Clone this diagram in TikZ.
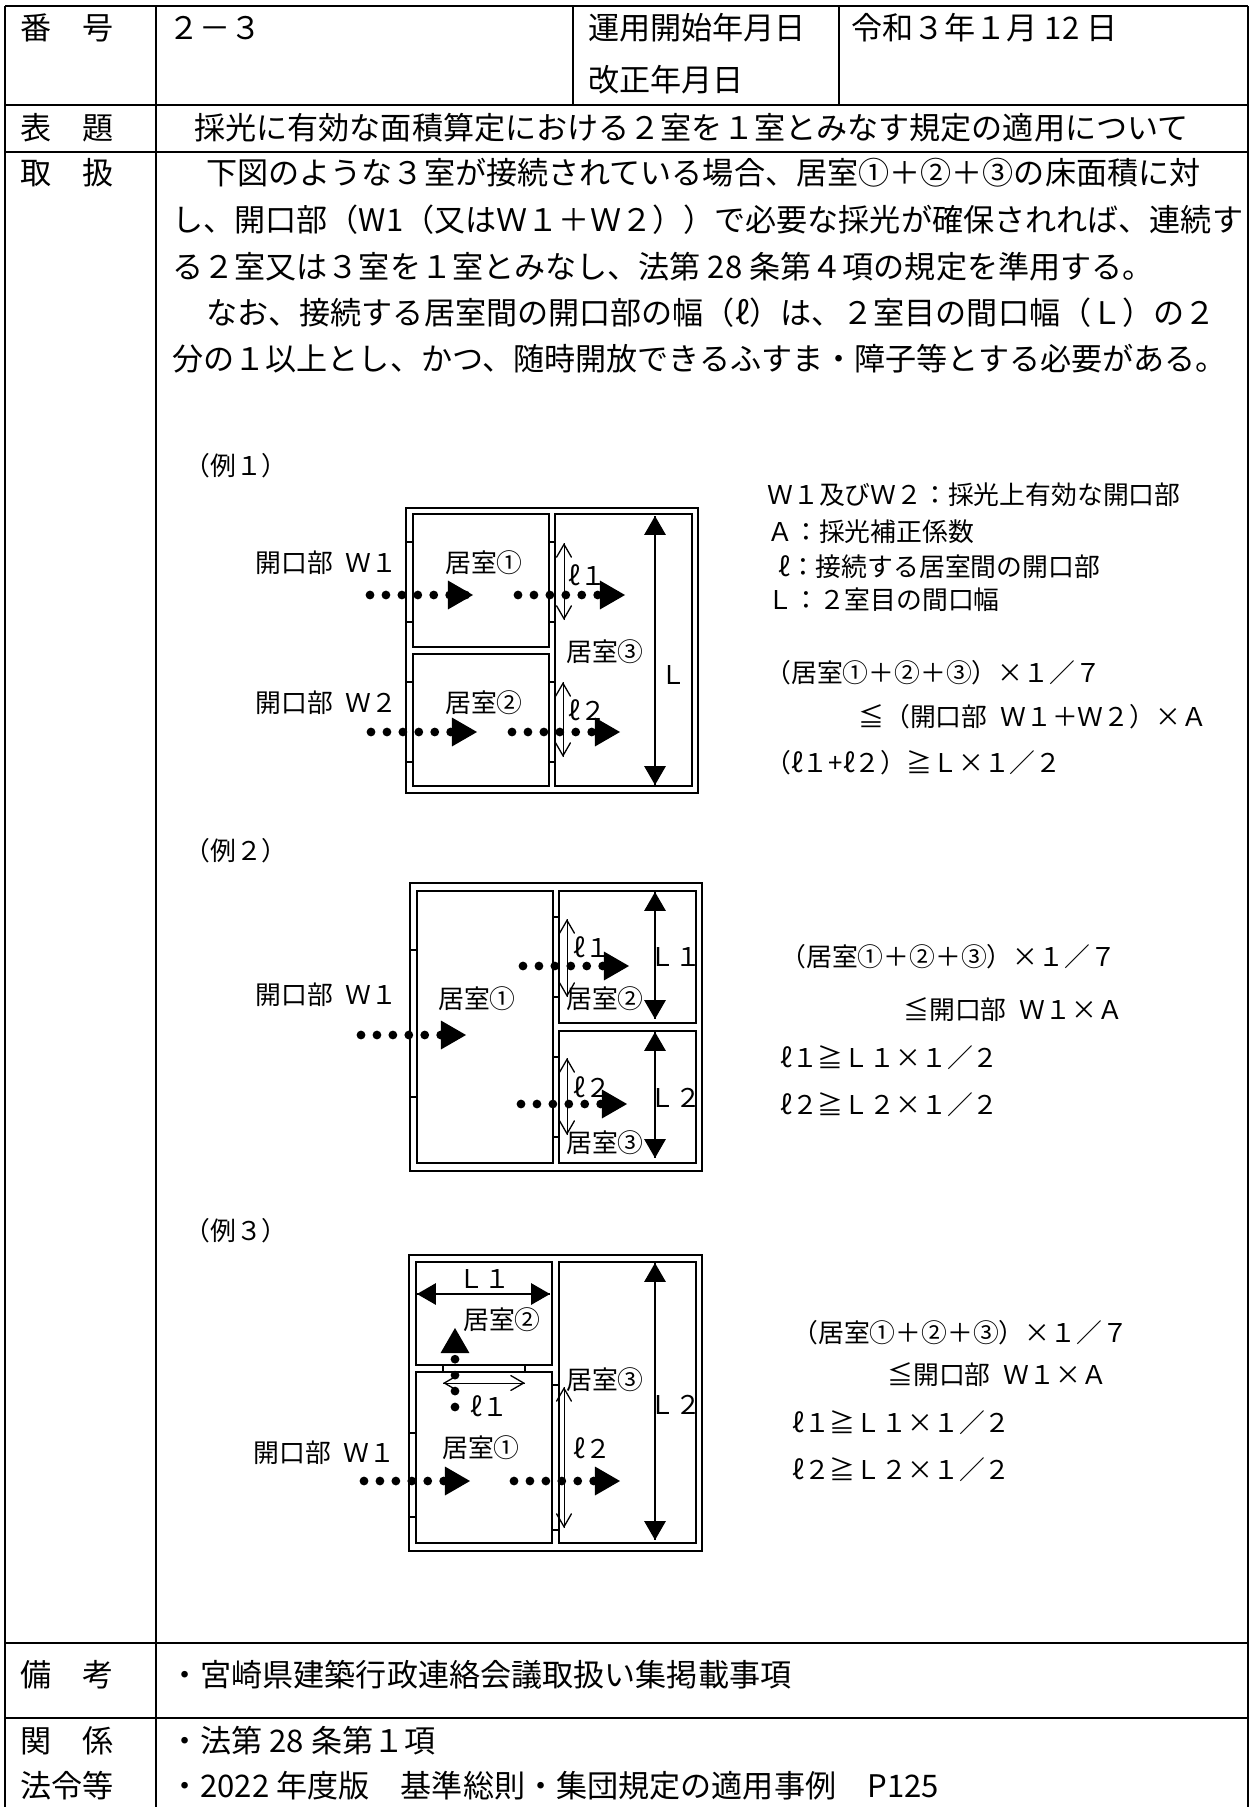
\documentclass[tikz,border=0pt]{standalone}
\usepackage{fontspec}
\setmainfont{Noto Sans CJK JP}
\usepackage{tikz}
\usetikzlibrary{arrows}
\usetikzlibrary{decorations.markings}
\newcommand{\bodysize}{\fontsize{17.7pt}{21pt}\selectfont}
\newcommand{\figsize}{\fontsize{14.7pt}{18pt}\selectfont}
\tikzset{rule/.style = {line width = 1pt}}
\tikzset{wall/.style = {line width = 1.6pt}}
\tikzset{txt/.style = {inner sep = 0, anchor = west, font = \bodysize}}
\tikzset{fig/.style = {inner sep = 0, font = \figsize}}
\tikzset{ray/.style = {line width = 5pt, line cap = round, dash pattern = on 0pt off 9.07pt,
                       decoration = {markings,
                                     mark = at position 1 with {\arrow[scale = 2.7, line width = 0.4pt]{triangle 60}}},
                       postaction = {decorate}}}
\tikzset{dimspan/.style = {line width = 0.6pt,
                           decoration = {markings,
                                         mark = at position 0 with {\arrowreversed[scale = 1.8]{triangle 60}},
                                         mark = at position 1 with {\arrow[scale = 1.8]{triangle 60}}},
                           postaction = {decorate}}}
\tikzset{gapspan/.style = {line width = 0.3pt,
                           decoration = {markings,
                                         mark = at position 0 with {\arrowreversed[scale = 2.5]{angle 60}},
                                         mark = at position 1 with {\arrow[scale = 2.5]{angle 60}}},
                           postaction = {decorate}}}

\begin{document}
\begin{tikzpicture}[x = 0.02cm, y = -0.02cm]
    \useasboundingbox (0, 0) rectangle (1252, 1807);
    \draw [rule] (5, 6) -- (1248, 6);
    \draw [rule] (5, 6) -- (5, 1807);
    \draw [rule] (1248, 6) -- (1248, 1807);
    \draw [rule] (156, 6) -- (156, 1807);
    \draw [rule] (573, 6) -- (573, 105);
    \draw [rule] (839, 6) -- (839, 105);
    \draw [rule] (5, 105) -- (1248, 105);
    \draw [rule] (5, 152) -- (1248, 152);
    \draw [rule] (5, 1643) -- (1248, 1643);
    \draw [rule] (5, 1718) -- (1248, 1718);

    \node [txt] (no) at (20, 28) {番　号};
    \node [txt] (noval) at (168, 28) {２－３};
    \node [txt] (start) at (588, 28) {運用開始年月日};
    \node [txt] (revise) at (588, 80) {改正年月日};
    \node [txt] (date) at (851, 28) {令和３年１月 12 日};
    \node [txt] (ttl) at (20, 128) {表　題};
    \node [txt] (ttlval) at (194, 128) {採光に有効な面積算定における２室を１室とみなす規定の適用について};
    \node [txt] (rule) at (20, 173) {取　扱};
    \node [txt] (body1) at (206, 173) {下図のような３室が接続されている場合、居室①＋②＋③の床面積に対};
    \node [txt] (body2) at (172, 220) {し、開口部（W1（又はＷ１＋Ｗ２））で必要な採光が確保されれば、連続す};
    \node [txt] (body3) at (172, 267) {る２室又は３室を１室とみなし、法第 28 条第４項の規定を準用する。};
    \node [txt] (body4) at (206, 313) {なお、接続する居室間の開口部の幅（ℓ）は、２室目の間口幅（Ｌ）の２};
    \node [txt] (body5) at (172, 359) {分の１以上とし、かつ、随時開放できるふすま・障子等とする必要がある。};
    \node [txt] (note) at (20, 1675) {備　考};
    \node [txt] (noteval) at (169, 1675) {・宮崎県建築行政連絡会議取扱い集掲載事項};
    \node [txt] (law1) at (20, 1741) {関　係};
    \node [txt] (law2) at (20, 1786) {法令等};
    \node [txt] (lawval1) at (169, 1741) {・法第 28 条第１項};
    \node [txt] (lawval2) at (169, 1786) {・2022 年度版　基準総則・集団規定の適用事例　P125};

    \node [fig, anchor = west] (ex1) at (184, 466) {（例１）};
    \draw [wall] (406, 508) rectangle (698, 793);
    \draw [wall] (413, 514) rectangle (549, 647);
    \draw [wall] (413, 654) rectangle (549, 786);
    \draw [wall] (555, 514) rectangle (692, 786);
    \draw [wall] (406, 542) -- (413, 542);
    \draw [wall] (406, 622) -- (413, 622);
    \draw [wall] (406, 682) -- (413, 682);
    \draw [wall] (406, 762) -- (413, 762);
    \draw [wall] (549, 542) -- (555, 542);
    \draw [wall] (549, 622) -- (555, 622);
    \draw [wall] (549, 682) -- (555, 682);
    \draw [wall] (549, 762) -- (555, 762);
    \draw [ray] (370, 595) -- (473, 595);
    \draw [ray] (518, 595) -- (625, 595);
    \draw [ray] (371, 732) -- (477, 732);
    \draw [ray] (512, 732) -- (620, 732);
    \draw [gapspan] (564, 543) -- (564, 620);
    \draw [gapspan] (563, 682) -- (563, 757);
    \draw [dimspan] (655, 516) -- (655, 785);
    \node [fig, anchor = east] (w1a) at (398, 563) {開口部\enspace Ｗ１};
    \node [fig, anchor = east] (w2a) at (398, 703) {開口部\enspace Ｗ２};
    \node [fig] (r1a) at (484, 563) {居室①};
    \node [fig] (r2a) at (484, 703) {居室②};
    \node [fig] (r3a) at (605, 652) {居室③};
    \node [fig, anchor = west] (l1a) at (568, 575) {ℓ１};
    \node [fig, anchor = west] (l2a) at (568, 710) {ℓ２};
    \node [fig] (La) at (673, 675) {Ｌ};
    \node [fig, anchor = west] (keyw) at (767, 495) {Ｗ１及びＷ２：採光上有効な開口部};
    \node [fig, anchor = west] (keya) at (767, 532) {Ａ：採光補正係数};
    \node [fig, anchor = west] (keyl) at (778, 567) {ℓ：接続する居室間の開口部};
    \node [fig, anchor = west] (keyL) at (767, 600) {Ｌ：２室目の間口幅};
    \node [fig, anchor = west] (eqa1) at (765, 673) {（居室①＋②＋③）×１／７};
    \node [fig, anchor = west] (eqa2) at (858, 717) {≦（開口部\enspace Ｗ１＋Ｗ２）×Ａ};
    \node [fig, anchor = west] (eqa3) at (765, 763) {（ℓ１+ℓ２）≧Ｌ×１／２};

    \node [fig, anchor = west] (ex2) at (184, 851) {（例２）};
    \draw [wall] (410, 883) rectangle (702, 1171);
    \draw [wall] (417, 891) rectangle (553, 1163);
    \draw [wall] (559, 891) rectangle (696, 1023);
    \draw [wall] (559, 1031) rectangle (696, 1163);
    \draw [wall] (410, 950) -- (417, 950);
    \draw [wall] (410, 1097) -- (417, 1097);
    \draw [wall] (553, 917) -- (559, 917);
    \draw [wall] (553, 997) -- (559, 997);
    \draw [wall] (553, 1057) -- (559, 1057);
    \draw [wall] (553, 1137) -- (559, 1137);
    \draw [ray] (361, 1035) -- (466, 1035);
    \draw [ray] (523, 966) -- (629, 966);
    \draw [ray] (521, 1104) -- (627, 1104);
    \draw [gapspan] (567, 919) -- (567, 997);
    \draw [gapspan] (567, 1058) -- (567, 1135);
    \draw [dimspan] (655, 892) -- (655, 1019);
    \draw [dimspan] (655, 1032) -- (655, 1158);
    \node [fig, anchor = east] (w1b) at (398, 995) {開口部\enspace Ｗ１};
    \node [fig] (r1b) at (477, 999) {居室①};
    \node [fig] (r2b) at (605, 999) {居室②};
    \node [fig] (r3b) at (605, 1143) {居室③};
    \node [fig, anchor = west] (l1b) at (573, 947) {ℓ１};
    \node [fig, anchor = west] (l2b) at (573, 1087) {ℓ２};
    \node [fig] (L1b) at (675, 957) {Ｌ１};
    \node [fig] (L2b) at (675, 1098) {Ｌ２};
    \node [fig, anchor = west] (eqb1) at (780, 957) {（居室①＋②＋③）×１／７};
    \node [fig, anchor = west] (eqb2) at (903, 1010) {≦開口部\enspace Ｗ１×Ａ};
    \node [fig, anchor = west] (eqb3) at (780, 1058) {ℓ１≧Ｌ１×１／２};
    \node [fig, anchor = west] (eqb4) at (780, 1105) {ℓ２≧Ｌ２×１／２};

    \node [fig, anchor = west] (ex3) at (184, 1231) {（例３）};
    \draw [wall] (409, 1255) rectangle (702, 1551);
    \draw [wall] (416, 1262) rectangle (552, 1365);
    \draw [wall] (416, 1372) rectangle (552, 1543);
    \draw [wall] (559, 1262) rectangle (696, 1543);
    \draw [wall] (409, 1433) -- (416, 1433);
    \draw [wall] (409, 1517) -- (416, 1517);
    \draw [wall] (552, 1385) -- (559, 1385);
    \draw [wall] (552, 1530) -- (559, 1530);
    \draw [wall] (443, 1365) -- (443, 1372);
    \draw [wall] (525, 1365) -- (525, 1372);
    \draw [ray] (364, 1481) -- (470, 1481);
    \draw [ray] (514, 1481) -- (620, 1481);
    \draw [ray] (455, 1407) -- (455, 1328);
    \draw [gapspan] (443, 1383) -- (525, 1383);
    \draw [gapspan] (564, 1387) -- (564, 1528);
    \draw [dimspan] (417, 1294) -- (550, 1294);
    \draw [dimspan] (655, 1263) -- (655, 1540);
    \node [fig, anchor = east] (w1c) at (396, 1453) {開口部\enspace Ｗ１};
    \node [fig] (r1c) at (481, 1448) {居室①};
    \node [fig] (r2c) at (502, 1320) {居室②};
    \node [fig] (r3c) at (605, 1380) {居室③};
    \node [fig, anchor = west] (l1c) at (470, 1406) {ℓ１};
    \node [fig, anchor = west] (l2c) at (573, 1448) {ℓ２};
    \node [fig] (L1c) at (484, 1279) {Ｌ１};
    \node [fig] (L2c) at (675, 1405) {Ｌ２};
    \node [fig, anchor = west] (eqc1) at (792, 1333) {（居室①＋②＋③）×１／７};
    \node [fig, anchor = west] (eqc2) at (887, 1375) {≦開口部\enspace Ｗ１×Ａ};
    \node [fig, anchor = west] (eqc3) at (792, 1423) {ℓ１≧Ｌ１×１／２};
    \node [fig, anchor = west] (eqc4) at (792, 1470) {ℓ２≧Ｌ２×１／２};
\end{tikzpicture}
\end{document}
